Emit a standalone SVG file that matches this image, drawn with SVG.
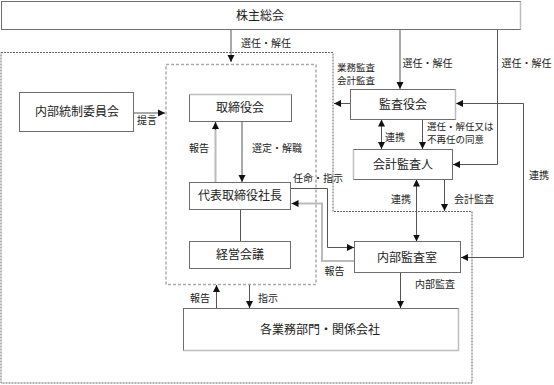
<svg xmlns="http://www.w3.org/2000/svg" width="554" height="385" viewBox="0 0 554 385">
<style>
.box{fill:#fff;stroke:#6e6e6e;stroke-width:1}
.lite{stroke:#bdbdbd;stroke-width:1.5;fill:none}
.ln{stroke:#555;stroke-width:1;fill:none}
.gl{stroke:#bbb;stroke-width:2;fill:none}
.t{font-family:"Noto Sans CJK JP","Noto Sans CJK SC",sans-serif;font-size:12px;fill:#222;text-anchor:middle}
.s{font-family:"Noto Sans CJK JP","Noto Sans CJK SC",sans-serif;font-size:10px;fill:#222;text-anchor:middle}
.xs{font-size:9.5px}
.sl{text-anchor:start}
</style>
<defs>
<marker id="ah" markerUnits="userSpaceOnUse" markerWidth="8" markerHeight="8" refX="7" refY="4" orient="auto-start-reverse">
<path d="M0,0.5 L7,4 L0,7.5 z" fill="#111"/>
</marker>
</defs>

<g id="regions">
<path d="M1,52.5 H333 V211.5 H472 V383 H1 Z" fill="none" stroke="#666" stroke-width="1" stroke-dasharray="2,1"/>
<rect x="166" y="64.5" width="150" height="220" fill="none" stroke="#aaa" stroke-width="1.5" stroke-dasharray="3,2"/>
</g>

<g id="connectors">
<path class="ln" d="M231,29 V62" marker-end="url(#ah)"/>
<path class="ln" d="M400,29 V89" marker-end="url(#ah)"/>
<path class="ln" d="M497.5,29 V164.5 H453" marker-end="url(#ah)"/>
<path class="ln" d="M134,113 H165" marker-end="url(#ah)"/>
<path class="ln" d="M350,103.5 H334" marker-end="url(#ah)"/>
<path class="ln" d="M461,257.5 H523.5 V103.5 H456" marker-end="url(#ah)"/>
<path class="ln" d="M461,257.5 H464" marker-start="url(#ah)"/>
<path class="ln" d="M381.5,119.5 V149" marker-start="url(#ah)" marker-end="url(#ah)"/>
<path class="ln" d="M422.5,119.5 V149" marker-end="url(#ah)"/>
<path class="ln" d="M416.5,179.5 V241.5" marker-start="url(#ah)" marker-end="url(#ah)"/>
<path class="ln" d="M444.5,179.5 V211" marker-end="url(#ah)"/>
<path class="gl" d="M215.5,182 V122.5"/>
<path class="ln" d="M215.5,130 V122" marker-end="url(#ah)"/>
<path class="ln" d="M242,122 V182" marker-end="url(#ah)"/>
<path class="ln" d="M240.5,209 V241"/>
<path class="ln" d="M291,188.5 H327.5 V247.5 H354" marker-end="url(#ah)"/>
<path class="gl" d="M354,261 H322 V203.5 H299"/>
<path class="ln" d="M299,203.5 H291.5" marker-end="url(#ah)"/>
<path class="ln" d="M400.5,272.5 V308" marker-end="url(#ah)"/>
<path class="ln" d="M216.5,308 V285" marker-end="url(#ah)"/>
<path class="ln" d="M249.5,285 V308" marker-end="url(#ah)"/>
</g>

<g id="n-shareholders">
<rect class="box" x="1.5" y="1.5" width="519" height="28"/>
<path class="lite" d="M520.5,1.5 V29.5"/>
<text class="t" x="260" y="20">株主総会</text>
</g>
<g id="n-naibutousei">
<rect class="box" x="19.5" y="92.5" width="114" height="39"/>
<text class="t" x="77" y="116">内部統制委員会</text>
</g>
<g id="n-board">
<rect class="box" x="189.5" y="94.5" width="102" height="27"/>
<path class="lite" d="M189.5,94.5 H291.5"/>
<text class="t" x="240" y="112">取締役会</text>
</g>
<g id="n-president">
<rect class="box" x="189.5" y="182.5" width="101" height="27"/>
<text class="t" x="240" y="200">代表取締役社長</text>
</g>
<g id="n-meeting">
<rect class="box" x="189.5" y="241.5" width="101" height="27"/>
<text class="t" x="240" y="259">経営会議</text>
</g>
<g id="n-kansayakukai">
<rect class="box" x="350.5" y="89.5" width="105" height="30"/>
<path class="lite" d="M455.5,89.5 V119.5"/>
<text class="t" x="403" y="108.5">監査役会</text>
</g>
<g id="n-kaikeikansanin">
<rect class="box" x="353.5" y="149.5" width="99" height="30"/>
<path class="lite" d="M353.5,149.5 V179.5"/>
<text class="t" x="403" y="168.5">会計監査人</text>
</g>
<g id="n-naibukansa">
<rect class="box" x="354.5" y="241.5" width="106" height="31"/>
<text class="t" x="407" y="261.5">内部監査室</text>
</g>
<g id="n-departments">
<rect class="box" x="183.5" y="308.5" width="275" height="42"/>
<path class="lite" d="M458.5,308.5 V350.5 H183.5"/>
<text class="t" x="320" y="333.5">各業務部門・関係会社</text>
</g>

<g id="labels">
<text class="s" x="266" y="46.5">選任・解任</text>
<text class="s" x="427.5" y="66.5">選任・解任</text>
<text class="s" x="526.5" y="66.5">選任・解任</text>
<text class="s sl xs" x="337" y="71"><tspan x="337">業務監査</tspan><tspan x="337" dy="13">会計監査</tspan></text>
<text class="s" x="147" y="123.5">提言</text>
<text class="s" x="199" y="151.5">報告</text>
<text class="s" x="277" y="151.5">選定・解職</text>
<text class="s" x="318" y="181.5">任命・指示</text>
<text class="s" x="395" y="140.5">連携</text>
<text class="s sl xs" x="427" y="130"><tspan x="427">選任・解任又は</tspan><tspan x="427" dy="13">不再任の同意</tspan></text>
<text class="s" x="539" y="178.5">連携</text>
<text class="s" x="401" y="202.5">連携</text>
<text class="s" x="474" y="202.5">会計監査</text>
<text class="s" x="334.5" y="274.5">報告</text>
<text class="s" x="435" y="287.5">内部監査</text>
<text class="s" x="200" y="301.5">報告</text>
<text class="s" x="268" y="301.5">指示</text>
</g>
</svg>
